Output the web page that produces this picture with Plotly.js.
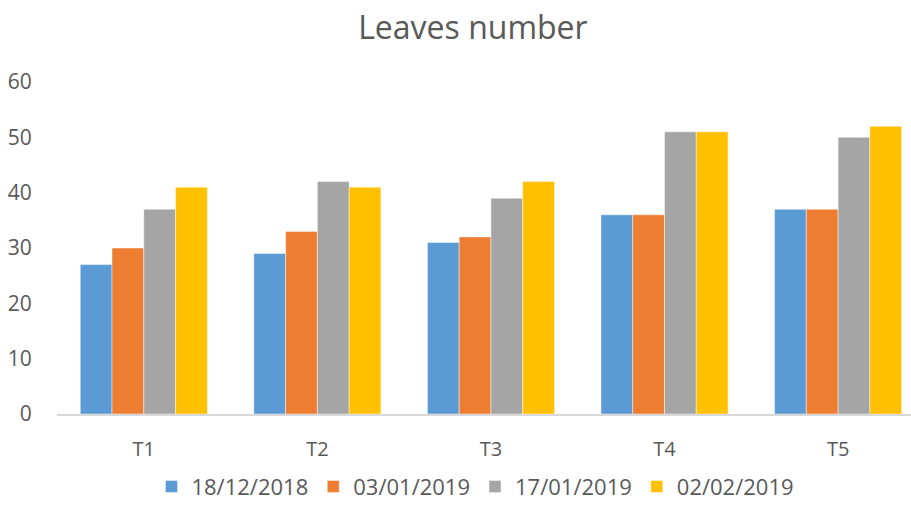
<!DOCTYPE html>
<html>
<head>
<meta charset="utf-8">
<script src="https://cdn.plot.ly/plotly-3.0.1.min.js"></script>
<style>html,body{margin:0;padding:0;background:#fff;}#chart{width:911px;height:508px;}</style>
</head>
<body>
<div id="chart"></div>
<script>
var categories = ["T1", "T2", "T3", "T4", "T5"];
var seriesNames = ["18/12/2018", "03/01/2019", "17/01/2019", "02/02/2019"];
var s1 = [27, 29, 31, 36, 37];
var s2 = [30, 33, 32, 36, 37];
var s3 = [37, 42, 39, 51, 50];
var s4 = [41, 41, 42, 51, 52];
var yTicks = [0, 10, 20, 30, 40, 50, 60];

var colors = ["#5B9BD5", "#ED7D31", "#A5A5A5", "#FFC000"];
var values = [s1, s2, s3, s4];
var font = "'Open Sans', 'Noto Sans', sans-serif";

var data = values.map(function (v, i) {
  return {
    type: "bar",
    name: seriesNames[i],
    x: categories,
    y: v,
    marker: { color: colors[i], line: { color: "rgba(255,255,255,0.6)", width: 0.75 } },
    hoverinfo: "x+y+name"
  };
});

var layout = {
  width: 911,
  height: 508,
  margin: { l: 57, r: 0, t: 82, b: 94, autoexpand: false },
  paper_bgcolor: "#ffffff",
  plot_bgcolor: "#ffffff",
  font: { family: font, color: "#595959", size: 21 },
  title: {
    text: "Leaves number",
    font: { family: font, size: 32, color: "#595959" },
    x: 0.487, xref: "paper", xanchor: "center",
    y: 0.945, yref: "container", yanchor: "middle",
    automargin: false
  },
  barmode: "group",
  bargap: 0.268,
  bargroupgap: 0,
  xaxis: {
    type: "category",
    range: [-0.5, 4.42],
    showgrid: false,
    zeroline: false,
    showline: true,
    linecolor: "#D9D9D9",
    linewidth: 1.5,
    ticks: "outside",
    ticklen: 16,
    tickcolor: "rgba(0,0,0,0)",
    tickfont: { family: font, size: 20, color: "#595959" },
    automargin: false,
    fixedrange: true
  },
  yaxis: {
    range: [0, 60],
    tickvals: yTicks,
    ticktext: yTicks.map(String),
    showgrid: false,
    zeroline: false,
    showline: false,
    ticks: "outside",
    ticklen: 20,
    tickcolor: "rgba(0,0,0,0)",
    tickfont: { family: font, size: 21, color: "#595959" },
    automargin: false,
    fixedrange: true
  },
  showlegend: true,
  legend: {
    orientation: "h",
    x: 0.49, xanchor: "center",
    y: -0.282, yanchor: "bottom",
    font: { family: font, size: 22, color: "#595959" },
    traceorder: "normal",
    itemwidth: 30
  }
};

Plotly.newPlot("chart", data, layout, { displayModeBar: false });
</script>
</body>
</html>
